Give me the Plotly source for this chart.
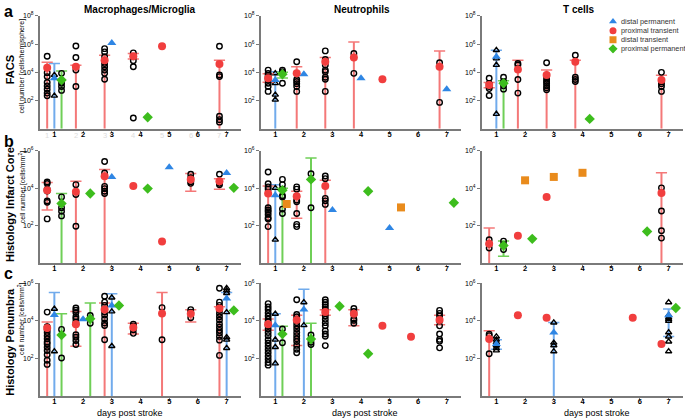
import plotly.graph_objects as go

# ---------------- data (values are log10 of cell numbers) ----------------
# group: (series, x position (day +/- offset), mean, lower whisker, upper whisker, individual points)
# lower whisker 0 => whisker runs down to 10^0 (axis bottom); None => no whisker
SERIES_ORDER = ["dp", "pt", "dt", "pp"]
SERIES_NAMES = {"dp": "distal permanent", "pt": "proximal transient",
                "dt": "distal transient", "pp": "proximal permanent"}

DAYS = [1, 2, 3, 4, 5, 6, 7]
CELL_TYPES = ["Macrophages/Microglia", "Neutrophils", "T cells"]
ROW_TITLES = ["FACS", "Histology Infarct Core", "Histology Penumbra"]
ROW_UNITS = ["cell number [cells/hemisphere]", "cell number [cells/mm<sup>2</sup>]",
             "cell number [cells/mm<sup>2</sup>]"]
ROW_LOG_MAX = [8, 6, 6]

FACS_MAC = [
    ("pt", 0.75, 4.33, 0, 4.72, [5.14, 3.98, 3.70, 3.28, 3.04, 2.81, 2.53, 2.34]),
    ("dp", 1.00, 3.58, 0, 4.63, [3.81, 2.34]),
    ("pp", 1.25, 3.46, 0, 4.09, [3.93, 3.23, 3.00, 2.72]),
    ("pt", 1.75, 4.40, 0, 4.50, [5.87, 5.05, 4.16, 3.00]),
    ("pt", 2.75, 4.86, 0, 5.21, [5.68, 5.45, 5.10, 4.63, 4.40, 4.16, 3.93, 3.51]),
    ("dp", 3.00, 6.08, None, None, []),
    ("pt", 3.75, 5.14, 4.95, 5.33, [5.38, 5.10, 4.82, 4.40, 0.77]),
    ("pp", 4.25, 0.82, None, None, []),
    ("pt", 4.75, 5.85, None, None, []),
    ("pt", 6.75, 4.59, 0, 4.86, [5.85, 3.81, 3.70, 0.89, 0.65, 0.47]),
]
FACS_NEU = [
    ("pt", 0.75, 3.58, 3.30, 3.90, [4.16, 3.93, 3.81, 3.65, 3.46, 3.23, 3.00, 2.65]),
    ("dp", 1.00, 3.46, 0, 4.05, [3.93, 3.23, 2.41, 2.06]),
    ("pp", 1.25, 3.86, 3.60, 4.00, [4.16, 4.05, 3.93, 3.23]),
    ("pt", 1.75, 3.93, 0, 4.40, [4.75, 3.49, 3.35, 3.20, 3.00, 2.65]),
    ("dp", 2.00, 3.86, None, None, []),
    ("pt", 2.75, 4.75, 0, 5.05, [5.52, 4.91, 4.52, 4.16, 4.05, 3.65, 3.51, 2.65]),
    ("pt", 3.75, 5.05, 0, 6.15, [5.33, 3.93]),
    ("dp", 4.00, 3.58, None, None, []),
    ("pt", 4.75, 3.51, None, None, []),
    ("pt", 6.75, 4.40, 0, 5.52, [4.68, 1.87]),
    ("dp", 7.00, 2.81, None, None, []),
]
FACS_TC = [
    ("pt", 0.75, 3.11, 2.90, 3.28, [3.58, 3.20, 3.00, 2.85, 2.36]),
    ("dp", 1.00, 5.10, 0, 5.57, [5.57, 4.98, 4.52, 1.05]),
    ("pp", 1.25, 3.23, 0, 3.40, [3.65, 3.35, 3.05, 2.81]),
    ("pt", 1.75, 4.21, 0, 4.86, [4.63, 4.52, 3.49, 2.53]),
    ("pt", 2.75, 3.81, 0, 4.16, [4.68, 3.70, 3.51, 3.35, 3.23, 3.05, 2.90, 2.77]),
    ("pt", 3.75, 4.75, 0, 4.85, [5.21, 3.65, 3.49, 3.35]),
    ("pp", 4.25, 0.70, None, None, []),
    ("pt", 6.75, 3.46, 0, 3.79, [4.00, 3.35, 3.20, 3.00, 2.65]),
]
CORE_MAC = [
    ("pt", 0.75, 3.89, 2.84, 4.30, [4.33, 4.25, 3.95, 3.85, 3.32, 3.25, 2.37]),
    ("pp", 1.25, 3.19, 0, 3.72, [3.54, 2.96, 2.78, 2.53]),
    ("pt", 1.75, 3.81, 0, 4.37, [4.19, 3.67, 1.98]),
    ("pp", 2.25, 3.72, None, None, []),
    ("pt", 2.75, 4.63, 0, 5.00, [5.42, 4.81, 4.10, 3.98, 3.84, 3.72]),
    ("dp", 3.00, 4.60, None, None, []),
    ("pt", 3.75, 4.12, None, None, []),
    ("pp", 4.25, 3.98, None, None, []),
    ("pt", 4.75, 1.17, None, None, []),
    ("dp", 5.00, 5.12, None, None, []),
    ("pt", 5.75, 4.47, 3.84, 4.78, [4.74, 4.56, 4.35, 4.26]),
    ("pt", 6.75, 4.37, 3.95, 4.50, [4.74, 4.26, 4.19]),
    ("dp", 7.00, 4.81, None, None, []),
    ("pp", 7.25, 4.02, None, None, []),
]
CORE_NEU = [
    ("pt", 0.75, 3.72, 0, 4.12, [4.86, 4.24, 4.07, 3.95, 2.96, 2.84, 2.75, 2.61, 2.43, 2.36, 1.96]),
    ("dp", 1.00, 3.63, 0, 4.19, [4.01, 1.26]),
    ("pp", 1.25, 3.89, 0, 4.00, [4.47, 4.19, 3.95, 3.60, 3.54, 2.89, 2.66]),
    ("dt", 1.40, 3.16, None, None, []),
    ("pt", 1.75, 3.58, 2.40, 3.84, [4.07, 3.95, 3.37, 3.28, 2.66, 2.08, 1.96]),
    ("pp", 2.25, 4.47, 0, 5.61, [4.77, 2.96]),
    ("pt", 2.75, 4.12, 0, 4.42, [4.65, 4.51, 3.46, 3.33, 3.14]),
    ("dp", 3.00, 2.84, None, None, []),
    ("pp", 4.25, 3.84, None, None, []),
    ("dp", 5.00, 1.88, None, None, []),
    ("dt", 5.40, 2.98, None, None, []),
    ("pp", 7.25, 3.23, None, None, []),
]
CORE_TC = [
    ("pt", 0.75, 1.05, 0, 1.88, [1.26, 1.03, 0.82]),
    ("pp", 1.25, 0.95, 0.38, 1.19, [1.19, 1.00, 0.74]),
    ("pt", 1.75, 1.47, None, None, []),
    ("dt", 2.00, 4.42, None, None, []),
    ("pp", 2.25, 1.31, None, None, []),
    ("pt", 2.75, 3.54, None, None, []),
    ("dt", 3.00, 4.60, None, None, []),
    ("dt", 4.00, 4.82, None, None, []),
    ("pp", 6.25, 1.70, None, None, []),
    ("pt", 6.75, 3.75, 0, 4.82, [4.02, 2.79, 1.74, 1.35]),
]
PEN_MAC = [
    ("pt", 0.75, 3.62, 0, 3.95, [4.47, 3.70, 3.53, 3.39, 3.22, 3.05, 2.88, 2.78, 2.60, 2.43, 2.20, 1.91, 1.69]),
    ("dp", 1.00, 4.31, 0, 5.51, [4.64, 2.38]),
    ("pp", 1.25, 3.25, 0, 4.38, [3.55, 2.03]),
    ("pt", 1.75, 3.83, 2.66, 4.50, [4.69, 4.57, 4.45, 4.22, 4.10, 3.93, 3.82, 3.27, 3.13, 2.96, 2.75]),
    ("dp", 2.00, 4.09, None, None, []),
    ("pp", 2.25, 4.12, 0, 4.96, [4.29, 3.88]),
    ("pt", 2.75, 4.61, 0, 4.96, [5.31, 5.00, 4.83, 4.62, 4.48, 4.31, 4.10, 3.89, 3.76, 3.00]),
    ("dp", 3.00, 4.82, 0, 5.45, [5.24, 4.50, 2.66]),
    ("pp", 3.25, 4.82, None, None, []),
    ("pt", 3.75, 3.65, 3.30, 3.88, [3.83, 3.74, 3.53, 3.34]),
    ("pt", 4.75, 4.40, 0, 5.51, [4.71, 3.00]),
    ("pt", 5.75, 4.38, 3.95, 4.60, [4.60, 4.46, 4.17]),
    ("pt", 6.75, 4.66, 0, 4.76, [5.74, 5.00, 4.83, 4.57, 4.39, 4.22, 4.05, 3.84, 3.67, 3.50, 3.36, 3.18, 2.98, 2.17]),
    ("dp", 7.00, 5.19, 0, 5.51, [5.74, 5.62, 5.48, 4.46, 3.13, 3.00, 2.56]),
    ("pp", 7.25, 4.56, None, None, []),
]
PEN_NEU = [
    ("pt", 0.75, 3.83, 3.50, 4.10, [4.92, 4.75, 4.61, 4.43, 4.26, 4.09, 3.95, 3.74, 3.57, 3.39,
                                    3.22, 3.00, 2.83, 2.66, 2.48, 2.31, 2.13, 1.96, 1.79, 1.65]),
    ("dp", 1.00, 3.77, 0, 4.38, [4.38, 3.00, 2.61, 1.74]),
    ("pp", 1.25, 3.30, 0, 3.72, [3.57, 2.84]),
    ("pt", 1.75, 4.05, 2.70, 4.30, [5.13, 4.34, 4.22, 4.09, 3.91, 3.74, 3.57, 3.39, 3.22, 3.05,
                                    2.91, 2.70, 2.50, 2.31]),
    ("dp", 2.00, 4.61, 0, 5.69, [4.99, 3.77]),
    ("pp", 2.25, 3.04, 0, 3.88, [3.25, 2.87, 2.75]),
    ("pt", 2.75, 4.47, 4.30, 4.60, [5.13, 4.99, 4.87, 4.75, 4.61, 4.43, 4.26, 4.09, 3.91, 3.74,
                                    3.48, 3.31, 3.19, 2.69]),
    ("pp", 3.25, 4.78, None, None, []),
    ("pt", 3.75, 4.38, 3.74, 4.60, [4.66, 4.50, 4.33, 4.10, 4.03, 3.88]),
    ("pp", 4.25, 2.26, None, None, []),
    ("pt", 4.75, 3.74, None, None, []),
    ("pt", 5.75, 3.16, None, None, []),
    ("pt", 6.75, 4.05, 3.80, 4.30, [4.56, 4.40, 4.26, 4.09, 4.00, 3.74, 3.31, 3.02, 2.92, 2.57]),
]
PEN_TC = [
    ("pt", 0.75, 3.04, 0, 3.48, [3.30, 3.22, 2.26]),
    ("dp", 1.00, 2.78, 2.50, 3.00, [3.17, 3.00, 2.86, 2.69, 2.55, 2.43]),
    ("pt", 1.75, 4.30, None, None, []),
    ("pt", 2.75, 4.17, None, None, []),
    ("dp", 3.00, 3.39, 0, 3.92, [3.91, 2.84, 2.70, 2.38]),
    ("pt", 5.75, 4.17, None, None, []),
    ("pt", 6.75, 2.78, None, None, []),
    ("dp", 7.00, 4.30, 3.18, 4.64, [4.99, 4.30, 4.17, 4.09, 4.00, 3.39, 3.17, 2.90, 2.38]),
    ("pp", 7.25, 4.69, None, None, []),
]

PANELS = [FACS_MAC, FACS_NEU, FACS_TC,
          CORE_MAC, CORE_NEU, CORE_TC,
          PEN_MAC, PEN_NEU, PEN_TC]

# ---------------- styling ----------------
W, H = 685, 419
MEAN_COL = {"dp": "#2f86e4", "pt": "#f13e3e", "dt": "#e98b1c", "pp": "#3dbd1d"}
LINE_COL = {"dp": "#71abec", "pt": "#f47878", "dt": "#e98b1c", "pp": "#6fcf57"}
SYM = {"dp": "triangle-up", "pt": "circle", "dt": "square", "pp": "diamond"}
MSIZE = {"dp": 8, "pt": 8, "dt": 8, "pp": 8}
PT_SYM = {"dp": "triangle-up-open", "pt": "circle-open", "dt": "square-open", "pp": "circle-open"}
FONT = "Liberation Sans, Arial, sans-serif"

COLS_PX = [(40, 241), (261, 461), (482, 683)]
ROWS_PX = [(12, 126), (148, 262), (282, 396)]

fig = go.Figure()
layout = dict(width=W, height=H, margin=dict(l=0, r=0, t=0, b=0),
              paper_bgcolor="white", plot_bgcolor="white",
              font=dict(family=FONT, color="black"), showlegend=False)

for i, groups in enumerate(PANELS):
    r, c = divmod(i, 3)
    n = i + 1
    xa, ya = f"x{n}", f"y{n}"
    xk = "xaxis" if n == 1 else f"xaxis{n}"
    yk = "yaxis" if n == 1 else f"yaxis{n}"
    x0, x1 = COLS_PX[c]
    y0, y1 = ROWS_PX[r]
    lmax = ROW_LOG_MAX[r]
    tv = [10 ** e for e in range(2, lmax + 1, 2)]
    tt = [f"10<sup>{e}</sup>" for e in range(2, lmax + 1, 2)]
    layout[xk] = dict(domain=[x0 / W, x1 / W], range=[0.5, 7.5], anchor=ya,
                      tickvals=DAYS, ticktext=[f"<b>{d}</b>" for d in DAYS],
                      tickfont=dict(size=7.5, color="black"),
                      showline=True, linecolor="#7a7a7a", linewidth=2,
                      ticks="outside", ticklen=2, tickcolor="#7a7a7a",
                      ticklabelstandoff=-5,
                      showgrid=False, zeroline=False, fixedrange=True)
    layout[yk] = dict(domain=[1 - y1 / H, 1 - y0 / H], type="log", range=[0, lmax],
                      anchor=xa, tickvals=tv, ticktext=tt,
                      tickfont=dict(size=7, color="black"),
                      showline=True, linecolor="#7a7a7a", linewidth=2,
                      ticks="outside", ticklen=3, tickcolor="#7a7a7a",
                      showgrid=False, zeroline=False, fixedrange=True)

    for s in SERIES_ORDER:
        gs = [g for g in groups if g[0] == s]
        if not gs:
            continue
        # whiskers
        lx, ly, cx, cy = [], [], [], []
        for (_, x, m, lo, hi, pts) in gs:
            if lo is None:
                continue
            lx += [x, x, None]
            ly += [10 ** lo, 10 ** hi, None]
            cx.append(x); cy.append(10 ** hi)
            if lo > 0:
                cx.append(x); cy.append(10 ** lo)
        if lx:
            fig.add_trace(go.Scatter(x=lx, y=ly, mode="lines", xaxis=xa, yaxis=ya,
                                     line=dict(color=LINE_COL[s], width=2),
                                     hoverinfo="skip"))
            fig.add_trace(go.Scatter(x=cx, y=cy, mode="markers", xaxis=xa, yaxis=ya,
                                     marker=dict(symbol="line-ew", size=8,
                                                 line=dict(color=LINE_COL[s], width=1.5)),
                                     hoverinfo="skip"))
        # individual points
        px, py = [], []
        for (_, x, m, lo, hi, pts) in gs:
            px += [x] * len(pts)
            py += [10 ** v for v in pts]
        if px:
            fig.add_trace(go.Scatter(x=px, y=py, mode="markers", xaxis=xa, yaxis=ya,
                                     marker=dict(symbol=PT_SYM[s], size=5.5, color="black",
                                                 line=dict(color="black", width=1.4)),
                                     hoverinfo="skip", cliponaxis=False))
    # means on top
    for s in SERIES_ORDER:
        gs = [g for g in groups if g[0] == s]
        if not gs:
            continue
        fig.add_trace(go.Scatter(x=[g[1] for g in gs], y=[10 ** g[2] for g in gs],
                                 mode="markers", xaxis=xa, yaxis=ya,
                                 marker=dict(symbol=SYM[s], size=MSIZE[s], color=MEAN_COL[s],
                                             line=dict(width=0)),
                                 cliponaxis=False))

# manual legend: hidden axis holding one marker per series
LEG_TOP, LEG_STEP = 17.7, 9.2
layout["xaxis10"] = dict(domain=[607 / W, 619 / W], range=[-1, 1], visible=False,
                         anchor="y10", fixedrange=True)
layout["yaxis10"] = dict(domain=[1 - (LEG_TOP + 3.5 * LEG_STEP) / H, 1 - (LEG_TOP - 0.5 * LEG_STEP) / H],
                         range=[3.5, -0.5], visible=False, anchor="x10", fixedrange=True)
for k, s in enumerate(SERIES_ORDER):
    fig.add_trace(go.Scatter(x=[0], y=[k], mode="markers", xaxis="x10", yaxis="y10",
                             name=SERIES_NAMES[s],
                             marker=dict(symbol=SYM[s], size=7, color=MEAN_COL[s])))

ann = []
for k, s in enumerate(SERIES_ORDER):
    ann.append(dict(text=SERIES_NAMES[s], x=619 / W, y=1 - (LEG_TOP + k * LEG_STEP) / H,
                    xref="paper", yref="paper", showarrow=False,
                    font=dict(size=7.3, color="#333333"), xanchor="left", yanchor="middle"))
# column titles
for c, (name, cx) in enumerate(zip(CELL_TYPES, [140, 362, 579])):
    ann.append(dict(text=f"<b>{name}</b>", x=cx / W, y=1 - 6 / H, xref="paper", yref="paper",
                    showarrow=False, font=dict(size=10), xanchor="center", yanchor="middle"))
# panel letters
for letter, ly in zip(["a", "b", "c"], [8, 139, 272]):
    ann.append(dict(text=f"<b>{letter}</b>", x=2 / W, y=1 - ly / H, xref="paper", yref="paper",
                    showarrow=False, font=dict(size=16), xanchor="left", yanchor="middle"))
# row titles
for title, unit, yc, yu in zip(ROW_TITLES, ROW_UNITS, [67, 203, 341], [63, 185, 318]):
    ann.append(dict(text=f"<b>{title}</b>", x=10 / W, y=1 - yc / H, xref="paper", yref="paper",
                    showarrow=False, textangle=-90, font=dict(size=11),
                    xanchor="center", yanchor="middle"))
    ann.append(dict(text=unit, x=22 / W, y=1 - yu / H, xref="paper", yref="paper",
                    showarrow=False, textangle=-90, font=dict(size=7),
                    xanchor="center", yanchor="middle"))
# x axis titles
for cx in [130, 365, 597]:
    ann.append(dict(text="days post stroke", x=cx / W, y=1 - 413 / H, xref="paper", yref="paper",
                    showarrow=False, font=dict(size=9), xanchor="center", yanchor="middle"))
# faint hidden tick labels in panel a (left)
for d in DAYS:
    ann.append(dict(text=str(d), x=d - 0.25, y=1 - 132.5 / H, xref="x", yref="paper",
                    showarrow=False, font=dict(size=7.5, color="#dcdcdc"),
                    xanchor="center", yanchor="middle"))
layout["annotations"] = ann

fig.update_layout(**layout)
fig.write_html("out.html", config={"displayModeBar": False},
               post_script="document.body.style.margin='0';document.body.style.overflow='hidden';")
